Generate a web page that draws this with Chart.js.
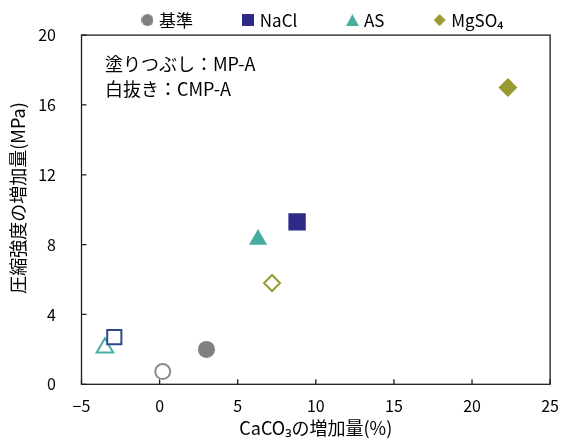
<!DOCTYPE html>
<html>
<head>
<meta charset="utf-8">
<script src="https://cdn.jsdelivr.net/npm/chart.js@4.4.1/dist/chart.umd.min.js"></script>
<style>
  html, body { margin: 0; padding: 0; background: #ffffff; }
  #wrap { width: 571px; height: 439px; }
</style>
</head>
<body>
<div id="wrap"><canvas id="c" width="571" height="439"></canvas></div>
<script>
// Additive groups
const categories = ['基準', 'NaCl', 'AS', 'MgSO₄'];
// Filled markers: MP-A
const mpaCaco3 = [3.0, 8.8, 6.3, 22.3];
const mpaStrength = [2.0, 9.3, 8.3, 17.0];
// Hollow markers: CMP-A
const cmpCaco3 = [0.2, -2.9, -3.5, 7.2];
const cmpStrength = [0.73, 2.7, 2.1, 5.8];
// Axis ticks
const xTickValues = [-5, 0, 5, 10, 15, 20, 25];
const xTickLabels = ['−5', '0', '5', '10', '15', '20', '25'];
const yTickValues = [0, 4, 8, 12, 16, 20];
const yTickLabels = ['0', '4', '8', '12', '16', '20'];

const FONT = '"Noto Sans CJK JP", "Noto Sans", sans-serif';
const colors = ['#808080', '#2f2a88', '#47ad9e', '#9a9a34'];
const hollowColors = ['#8a8a8a', '#2c4a8a', '#47ad9e', '#9a9a34'];
const shapes = ['circle', 'rect', 'triangle', 'rectRot'];
const filledRadius = [8.5, 12.3, 10.5, 9.5];
const hollowRadius = [7.5, 10, 9.5, 8];

function legendMarker(shape, color, w, h) {
  const c = document.createElement('canvas');
  c.width = w; c.height = h;
  const g = c.getContext('2d');
  g.fillStyle = color;
  g.beginPath();
  if (shape === 'circle') g.arc(w / 2, h / 2, w / 2, 0, Math.PI * 2);
  else if (shape === 'rect') g.rect(0, 0, w, h);
  else if (shape === 'triangle') { g.moveTo(w / 2, 0); g.lineTo(w, h); g.lineTo(0, h); g.closePath(); }
  else { g.moveTo(w / 2, 0); g.lineTo(w, h / 2); g.lineTo(w / 2, h); g.lineTo(0, h / 2); g.closePath(); }
  g.fill();
  return c;
}
const legendSizes = [[12, 12], [12, 12], [13, 12], [12, 12]];
const legendIcons = shapes.map((s, i) => legendMarker(s, colors[i], legendSizes[i][0], legendSizes[i][1]));

const datasets = [];
categories.forEach((name, i) => {
  datasets.push({
    label: name,
    data: [{ x: mpaCaco3[i], y: mpaStrength[i] }],
    pointStyle: shapes[i],
    pointRadius: filledRadius[i],
    pointHoverRadius: filledRadius[i],
    backgroundColor: colors[i],
    borderColor: colors[i],
    borderWidth: 0
  });
  datasets.push({
    label: name + ' (CMP-A)',
    data: [{ x: cmpCaco3[i], y: cmpStrength[i] }],
    pointStyle: shapes[i],
    pointRadius: hollowRadius[i],
    pointHoverRadius: hollowRadius[i],
    backgroundColor: '#ffffff',
    borderColor: hollowColors[i],
    borderWidth: 2
  });
});

const frameAndText = {
  id: 'frameAndText',
  afterLayout(chart) {
    // nudge the legend row slightly to the right
    chart.legend.left += 8;
    chart.legend.right += 8;
  },
  beforeDatasetsDraw(chart) {
    const { ctx, chartArea: a, scales: { x, y } } = chart;
    ctx.save();
    ctx.strokeStyle = '#1e1e1e';
    ctx.lineWidth = 1.3;
    ctx.beginPath();
    xTickValues.forEach(v => {
      const px = x.getPixelForValue(v);
      ctx.moveTo(px, a.bottom);
      ctx.lineTo(px, a.bottom - 5);
    });
    yTickValues.forEach(v => {
      const py = y.getPixelForValue(v);
      ctx.moveTo(a.left, py);
      ctx.lineTo(a.left + 5, py);
    });
    ctx.stroke();
    ctx.strokeRect(a.left, a.top, a.right - a.left, a.bottom - a.top);
    ctx.restore();
  },
  afterDraw(chart) {
    const { ctx, chartArea: a } = chart;
    ctx.save();
    ctx.fillStyle = '#000000';
    ctx.font = '18px ' + FONT;
    ctx.textBaseline = 'middle';
    ctx.textAlign = 'left';
    ctx.fillText('塗りつぶし：MP-A', 105, 64);
    ctx.fillText('白抜き：CMP-A', 105, 89);
    ctx.textAlign = 'center';
    ctx.fillText('CaCO₃の増加量(%)', (a.left + a.right) / 2, 428);
    ctx.translate(18.5, 198);
    ctx.rotate(-Math.PI / 2);
    ctx.fillText('圧縮強度の増加量(MPa)', 0, 0);
    ctx.restore();
  }
};

Chart.defaults.font.family = FONT;
Chart.defaults.color = '#000000';

new Chart(document.getElementById('c'), {
  type: 'scatter',
  data: { datasets },
  options: {
    responsive: false,
    animation: false,
    devicePixelRatio: 1,
    layout: { padding: { top: -40.5, left: 0, right: 12, bottom: 0 } },
    plugins: {
      tooltip: { enabled: false },
      legend: {
        position: 'top',
        fullSize: false,
        maxHeight: 75.5,
        labels: {
          usePointStyle: true,
          boxWidth: 6.2,
          boxHeight: 12,
          padding: 52,
          color: '#000000',
          font: { size: 17, family: FONT },
          generateLabels: () => categories.map((name, i) => ({
            text: name,
            pointStyle: legendIcons[i],
            fillStyle: colors[i],
            strokeStyle: colors[i],
            lineWidth: 0,
            hidden: false,
            datasetIndex: i * 2
          }))
        }
      }
    },
    scales: {
      x: {
        type: 'linear',
        min: -5,
        max: 25,
        afterBuildTicks: s => { s.ticks = xTickValues.map(v => ({ value: v })); },
        afterFit: s => { s.height = 54.7; },
        ticks: {
          padding: 12,
          font: { size: 16 },
          color: '#000000',
          callback: v => xTickLabels[xTickValues.indexOf(v)]
        },
        grid: { display: false, drawTicks: false },
        border: { display: false }
      },
      y: {
        type: 'linear',
        min: 0,
        max: 20,
        afterBuildTicks: s => { s.ticks = yTickValues.map(v => ({ value: v })); },
        afterFit: s => { s.width = 81.5; },
        ticks: {
          padding: 25.5,
          font: { size: 16 },
          color: '#000000',
          callback: v => yTickLabels[yTickValues.indexOf(v)]
        },
        grid: { display: false, drawTicks: false },
        border: { display: false }
      }
    }
  },
  plugins: [frameAndText]
});
</script>
</body>
</html>
